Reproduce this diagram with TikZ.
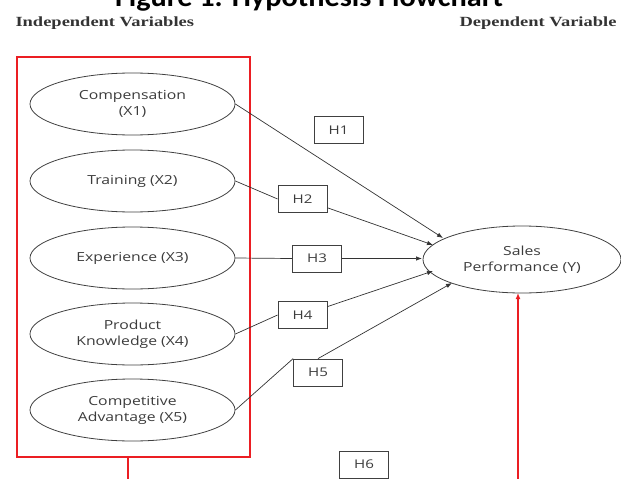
\documentclass[tikz,border=0pt]{standalone}
\usepackage{fontspec}
\setmainfont[FakeStretch=1.26]{Open Sans}
\newfontfamily\titlefont[FakeStretch=1.08]{Carlito}
\newfontfamily\hdrfont[FakeStretch=1.32]{Liberation Serif}
\usetikzlibrary{arrows.meta,shapes.geometric}
\definecolor{redline}{RGB}{235,30,35}
\definecolor{txtgrey}{RGB}{60,60,60}
\tikzset{
  var/.style={ellipse, draw=black!75, line width=0.8pt, minimum width=205pt, minimum height=62pt, inner sep=0pt, align=center, font=\fontsize{12.5}{16}\selectfont, text=txtgrey},
  dep/.style={ellipse, draw=black!75, line width=0.8pt, minimum width=198pt, minimum height=67pt, inner sep=0pt, align=center, font=\fontsize{12.5}{16}\selectfont, text=txtgrey},
  hyp/.style={draw=black!75, line width=0.8pt, minimum width=49pt, minimum height=27pt, inner sep=0pt, font=\fontsize{12}{12}\selectfont, text=txtgrey},
  conn/.style={draw=black!80, line width=0.7pt},
  arr/.style={conn, -{Latex[length=6pt,width=4.5pt]}},
  hdr/.style={font=\hdrfont\bfseries\fontsize{14}{16}\selectfont, text=black!80, anchor=base west},
}
\begin{document}
\begin{tikzpicture}[x=1pt,y=-1pt]
\useasboundingbox (0,0) rectangle (621,479);
\node[font=\titlefont\bfseries\fontsize{28}{30}\selectfont, anchor=base] (title) at (309,6) {Figure 1. Hypothesis Flowchart};
\node[hdr] (indep) at (12,27) {Independent Variables};
\node[hdr, anchor=base east] (dephdr) at (620,27) {Dependent Variable};
% red frame
\draw[redline, line width=1.6pt] (17,57) rectangle (250,457);
\coordinate (fb) at (128,457);
\coordinate (fe) at (128,479);
\draw[redline, line width=1.6pt] (fb) -- (fe);
% ellipses
\node[var] (x1) at (132.5,104) {Compensation\\(X1)};
\node[var] (x2) at (132.5,181) {Training (X2)};
\node[var] (x3) at (132.5,258) {Experience (X3)};
\node[var] (x4) at (132.5,334) {Product\\Knowledge (X4)};
\node[var] (x5) at (132.5,410) {Competitive\\Advantage (X5)};
\node[dep] (y) at (522,259.5) {Sales\\Performance (Y)};
% hypothesis boxes
\node[hyp] (h1) at (338.5,130) {H1};
\node[hyp] (h2) at (302.5,199) {H2};
\node[hyp] (h3) at (317,258.5) {H3};
\node[hyp] (h4) at (302.5,315) {H4};
\node[hyp] (h5) at (318,372.5) {H5};
\node[hyp] (h6) at (364,464.5) {H6};
% targets on Y
\coordinate (t1) at (443,238);
\coordinate (t2) at (433,245);
\coordinate (t3) at (422,258.5);
\coordinate (t4) at (433,271);
\coordinate (t5) at (452,283);
\coordinate (rs) at (518,479);
\coordinate (rt) at (518,293);
% connectors
\draw[arr] (x1.east) -- (t1);
\draw[conn] (x2.east) -- (h2.west);
\draw[arr] (h2) -- (t2);
\draw[conn] (x3.east) -- (h3.west);
\draw[arr] (h3.east) -- (t3);
\draw[conn] (x4.east) -- (h4.west);
\draw[arr] (h4) -- (t4);
\draw[conn] (x5.east) -- (h5.north west);
\draw[arr] (h5.north) -- (t5);
\draw[redline, line width=1.6pt, -{Latex[length=6pt,width=5pt]}] (rs) -- (rt);
\end{tikzpicture}
\end{document}
